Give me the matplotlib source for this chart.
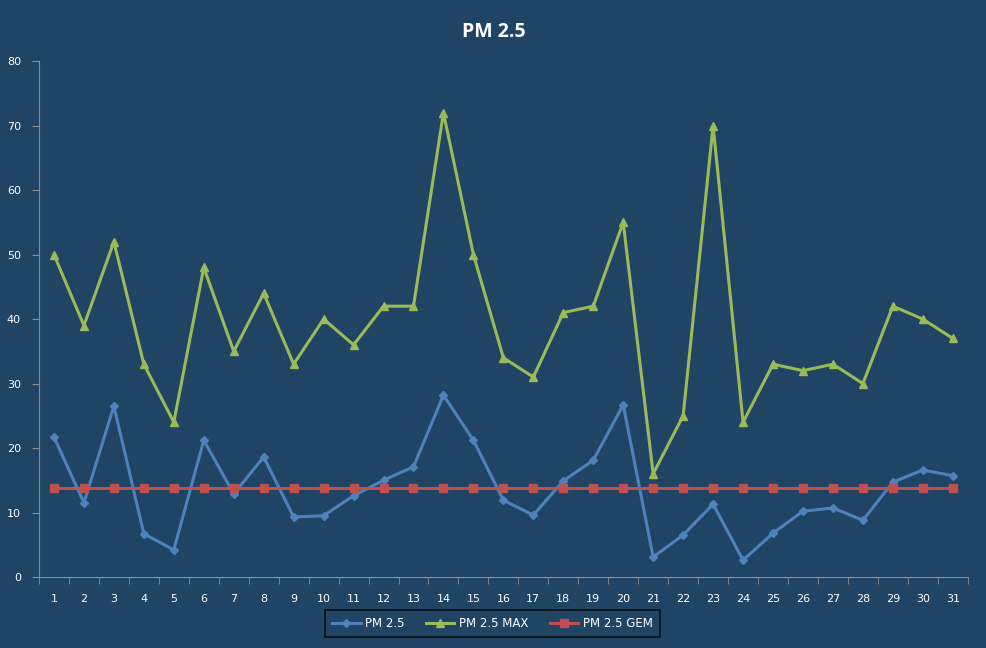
import numpy as np
import matplotlib
matplotlib.use('Agg')
import matplotlib.pyplot as plt

days = list(range(1, 32))
pm25 = [21.7, 11.5, 26.5, 6.7, 4.2, 21.2, 12.9, 18.6, 9.3, 9.5, 12.6, 15.0, 17.1, 28.2, 21.2, 11.9,
        9.6, 14.9, 18.1, 26.7, 3.1, 6.5, 11.3, 2.6, 6.8, 10.2, 10.7, 8.8, 14.7, 16.6, 15.7]
pm25_max = [50, 39, 52, 33, 24, 48, 35, 44, 33, 40, 36, 42, 42, 72, 50, 34,
            31, 41, 42, 55, 16, 25, 70, 24, 33, 32, 33, 30, 42, 40, 37]
pm25_gem = [13.8] * 31

bg = '#1F4464'
axis_col = '#8C8C8C'

fig = plt.figure(figsize=(9.87, 6.48), dpi=100, facecolor=bg)
ax = fig.add_axes([0.0395, 0.1096, 0.941, 0.796])
ax.set_facecolor(bg)

ax.plot(days, pm25, color='#4F81BD', lw=2.2, marker='D', ms=4.5, label='PM 2.5')
ax.plot(days, pm25_max, color='#9BBB59', lw=2.2, marker='^', ms=6, label='PM 2.5 MAX')
ax.plot(days, pm25_gem, color='#C0504D', lw=2.2, marker='s', ms=6, label='PM 2.5 GEM')

ax.set_xlim(0.5, 31.5)
ax.set_ylim(0, 80)
ax.set_yticks(range(0, 81, 10))
ax.set_xticks(days)
ax.set_xticks(np.arange(0.5, 32, 1), minor=True)
ax.tick_params(axis='x', which='major', length=0, pad=12, labelsize=8, labelcolor='white')
ax.tick_params(axis='x', which='minor', length=5, color=axis_col)
ax.tick_params(axis='y', length=5, color=axis_col, labelsize=8, labelcolor='white', pad=8)

for side in ['top', 'right']:
    ax.spines[side].set_visible(False)
for side in ['left', 'bottom']:
    ax.spines[side].set_color(axis_col)

fig.text(0.5, 0.951, 'PM 2.5', ha='center', va='center', color='white',
         fontsize=14, fontweight='bold', family='Open Sans')

leg = fig.legend(loc='center', ncol=3, frameon=True,
                 fontsize=8.5, handlelength=2.4, columnspacing=1.8, handletextpad=0.4,
                 borderpad=0.6, borderaxespad=0)
leg.set_bbox_to_anchor((0.499, 0.0378), transform=fig.transFigure)
frame = leg.get_frame()
frame.set_facecolor('none')
frame.set_edgecolor('black')
frame.set_linewidth(1.2)
frame.set_boxstyle('square', pad=0.0)
for t in leg.get_texts():
    t.set_color('white')

fig.savefig('out.png', dpi=100, facecolor=bg)
